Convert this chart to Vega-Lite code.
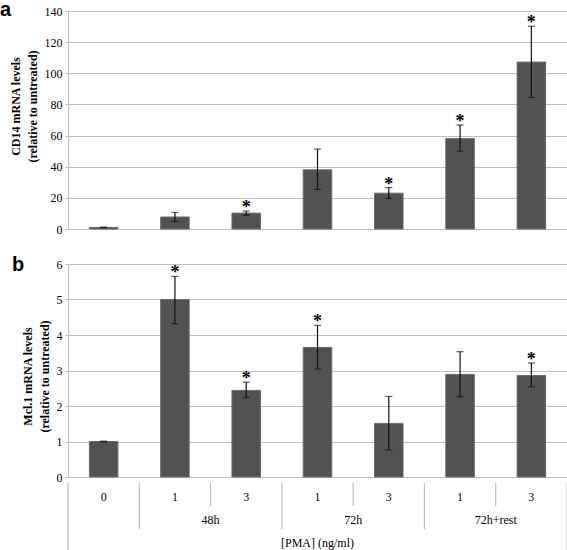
{
  "$schema": "https://vega.github.io/schema/vega-lite/v6.json",
  "padding": {"left": 0, "top": 0, "right": 2, "bottom": 0},
  "background": "white",
  "config": {
    "view": {"stroke": null},
    "concat": {"spacing": -6},
    "axis": {
      "labelFont": "Liberation Serif", "labelFontSize": 12, "labelColor": "#000",
      "titleFont": "Liberation Serif", "titleFontSize": 12, "titleFontWeight": "bold", "titleColor": "#000",
      "gridColor": "#bdbdbd", "gridWidth": 1.2, "domainColor": "#bdbdbd", "tickColor": "#bdbdbd", "tickSize": 3, "labelPadding": 3, "titlePadding": 5, "titleLineHeight": 17
    },
    "text": {"font": "Liberation Serif", "fontSize": 12, "color": "#000"}
  },
  "datasets": {
    "cd14": [
      {"cond": "0", "mean": 1.0, "lo": 0.8, "hi": 1.2, "sig": ""},
      {"cond": "48h 1", "mean": 7.7, "lo": 4.9, "hi": 10.6, "sig": ""},
      {"cond": "48h 3", "mean": 10.2, "lo": 8.9, "hi": 11.5, "sig": "*"},
      {"cond": "72h 1", "mean": 38.0, "lo": 25.5, "hi": 51.3, "sig": ""},
      {"cond": "72h 3", "mean": 23.0, "lo": 19.6, "hi": 26.6, "sig": "*"},
      {"cond": "72h+rest 1", "mean": 58.1, "lo": 50.0, "hi": 66.8, "sig": "*"},
      {"cond": "72h+rest 3", "mean": 107.2, "lo": 84.5, "hi": 130.2, "sig": "*"}
    ],
    "mcl1": [
      {"cond": "0", "mean": 1.0, "lo": 0.99, "hi": 1.01, "sig": ""},
      {"cond": "48h 1", "mean": 5.0, "lo": 4.32, "hi": 5.65, "sig": "*"},
      {"cond": "48h 3", "mean": 2.44, "lo": 2.24, "hi": 2.67, "sig": "*"},
      {"cond": "72h 1", "mean": 3.65, "lo": 3.04, "hi": 4.27, "sig": "*"},
      {"cond": "72h 3", "mean": 1.51, "lo": 0.76, "hi": 2.27, "sig": ""},
      {"cond": "72h+rest 1", "mean": 2.89, "lo": 2.26, "hi": 3.53, "sig": ""},
      {"cond": "72h+rest 3", "mean": 2.86, "lo": 2.54, "hi": 3.21, "sig": "*"}
    ],
    "labels": [
      {"cond": "0", "row": "dose", "label": "0"},
      {"cond": "48h 1", "row": "dose", "label": "1"},
      {"cond": "48h 3", "row": "dose", "label": "3"},
      {"cond": "72h 1", "row": "dose", "label": "1"},
      {"cond": "72h 3", "row": "dose", "label": "3"},
      {"cond": "72h+rest 1", "row": "dose", "label": "1"},
      {"cond": "72h+rest 3", "row": "dose", "label": "3"},
      {"cond": "48h 1", "row": "group", "label": "48h"},
      {"cond": "72h 1", "row": "group", "label": "72h"},
      {"cond": "72h+rest 1", "row": "group", "label": "72h+rest"},
      {"cond": "72h 1", "row": "title", "label": "[PMA] (ng/ml)"}
    ],
    "seps": [
      {"cond": "0", "edge": "start", "depth": 3},
      {"cond": "48h 1", "edge": "start", "depth": 2},
      {"cond": "48h 3", "edge": "start", "depth": 1},
      {"cond": "72h 1", "edge": "start", "depth": 2},
      {"cond": "72h 3", "edge": "start", "depth": 1},
      {"cond": "72h+rest 1", "edge": "start", "depth": 2},
      {"cond": "72h+rest 3", "edge": "start", "depth": 1},
      {"cond": "72h+rest 3", "edge": "end", "depth": 2}
    ]
  },
  "resolve": {"scale": {"x": "independent", "y": "independent"}},
  "vconcat": [
    {
      "width": 499, "height": 218,
      "title": {"text": "a", "anchor": "start", "frame": "bounds", "font": "Liberation Sans", "fontSize": 20, "fontWeight": "bold", "baseline": "alphabetic", "offset": -31, "dx": -9, "color": "#000"},
      "data": {"name": "cd14"},
      "encoding": {
        "x": {"field": "cond", "type": "nominal", "sort": ["0", "48h 1", "48h 3", "72h 1", "72h 3", "72h+rest 1", "72h+rest 3"],
              "scale": {"paddingInner": 0.6, "paddingOuter": 0.3},
              "axis": {"labels": false, "ticks": false, "domain": false, "title": null, "minExtent": 32, "maxExtent": 32}}
      },
      "layer": [
        {"mark": {"type": "bar", "color": "#525252", "stroke": "#6a6a6a", "strokeWidth": 1},
         "encoding": {"y": {"field": "mean", "type": "quantitative", "scale": {"domain": [0, 140], "nice": false},
           "axis": {"values": [0, 20, 40, 60, 80, 100, 120, 140], "tickCount": 10, "format": "d", "title": ["CD14 mRNA levels", "(relative to untreated)"], "titleY": 95}}}},
        {"mark": {"type": "rule", "color": "#111", "strokeWidth": 1.2},
         "encoding": {"y": {"field": "lo", "type": "quantitative"}, "y2": {"field": "hi"}}},
        {"mark": {"type": "tick", "color": "#111", "size": 7, "thickness": 1.2},
         "encoding": {"y": {"field": "lo", "type": "quantitative"}}},
        {"mark": {"type": "tick", "color": "#111", "size": 7, "thickness": 1.2},
         "encoding": {"y": {"field": "hi", "type": "quantitative"}}},
        {"mark": {"type": "text", "fontSize": 18, "fontWeight": "bold", "baseline": "alphabetic", "dy": 2},
         "encoding": {"y": {"field": "hi", "type": "quantitative"}, "text": {"field": "sig"}}}
      ]
    },
    {
      "width": 499, "height": 213,
      "title": {"text": "b", "anchor": "start", "frame": "bounds", "font": "Liberation Sans", "fontSize": 20, "fontWeight": "bold", "baseline": "alphabetic", "offset": -33, "dx": -9, "color": "#000"},
      "data": {"name": "mcl1"},
      "encoding": {
        "x": {"field": "cond", "type": "nominal", "sort": ["0", "48h 1", "48h 3", "72h 1", "72h 3", "72h+rest 1", "72h+rest 3"],
              "scale": {"paddingInner": 0.6, "paddingOuter": 0.3}, "axis": null}
      },
      "layer": [
        {"mark": {"type": "bar", "color": "#525252", "stroke": "#6a6a6a", "strokeWidth": 1},
         "encoding": {"y": {"field": "mean", "type": "quantitative", "scale": {"domain": [0, 6], "nice": false},
           "axis": {"values": [0, 1, 2, 3, 4, 5, 6], "tickCount": 10, "format": "d", "title": ["Mcl.1 mRNA levels", "(relative to untreated)"], "titleY": 112}}}},
        {"mark": {"type": "rule", "color": "#111", "strokeWidth": 1.2},
         "encoding": {"y": {"field": "lo", "type": "quantitative"}, "y2": {"field": "hi"}}},
        {"mark": {"type": "tick", "color": "#111", "size": 7, "thickness": 1.2},
         "encoding": {"y": {"field": "lo", "type": "quantitative"}}},
        {"mark": {"type": "tick", "color": "#111", "size": 7, "thickness": 1.2},
         "encoding": {"y": {"field": "hi", "type": "quantitative"}}},
        {"mark": {"type": "text", "fontSize": 18, "fontWeight": "bold", "baseline": "alphabetic", "dy": 2},
         "encoding": {"y": {"field": "hi", "type": "quantitative"}, "text": {"field": "sig"}}}
      ]
    },
    {
      "width": 499, "height": 69,
      "resolve": {"scale": {"y": "independent"}},
      "layer": [
        {"data": {"name": "seps"}, "transform": [{"filter": "datum.edge === 'start'"}],
         "mark": {"type": "rule", "color": "#bdbdbd", "strokeWidth": 1.2},
         "encoding": {
           "x": {"field": "cond", "type": "nominal", "sort": ["0", "48h 1", "48h 3", "72h 1", "72h 3", "72h+rest 1", "72h+rest 3"], "scale": {"padding": 0}, "bandPosition": 0, "axis": null},
           "y": {"field": "depth", "type": "quantitative", "scale": {"domain": [0, 3], "reverse": true, "nice": false}, "axis": null},
           "y2": {"datum": 0}}},
        {"data": {"name": "seps"}, "transform": [{"filter": "datum.edge === 'end'"}],
         "mark": {"type": "rule", "color": "#bdbdbd", "strokeWidth": 1.2},
         "encoding": {
           "x": {"field": "cond", "type": "nominal", "sort": ["0", "48h 1", "48h 3", "72h 1", "72h 3", "72h+rest 1", "72h+rest 3"], "bandPosition": 1, "axis": null},
           "y": {"field": "depth", "type": "quantitative", "axis": null},
           "y2": {"datum": 0}}},
        {"data": {"name": "labels"}, "transform": [{"filter": "datum.row !== 'group'"}],
         "mark": {"type": "text", "baseline": "middle", "dy": 2},
         "encoding": {
           "x": {"field": "cond", "type": "nominal", "sort": ["0", "48h 1", "48h 3", "72h 1", "72h 3", "72h+rest 1", "72h+rest 3"], "axis": null},
           "y": {"field": "row", "type": "ordinal", "scale": {"domain": ["dose", "group", "title"], "paddingInner": 0, "paddingOuter": 0}, "axis": null},
           "text": {"field": "label"}}},
        {"data": {"name": "labels"}, "transform": [{"filter": "datum.row === 'group'"}],
         "mark": {"type": "text", "baseline": "middle", "dy": 2},
         "encoding": {
           "x": {"field": "cond", "type": "nominal", "sort": ["0", "48h 1", "48h 3", "72h 1", "72h 3", "72h+rest 1", "72h+rest 3"], "bandPosition": 1, "axis": null},
           "y": {"field": "row", "type": "ordinal", "axis": null},
           "text": {"field": "label"}}}
      ]
    }
  ]
}
